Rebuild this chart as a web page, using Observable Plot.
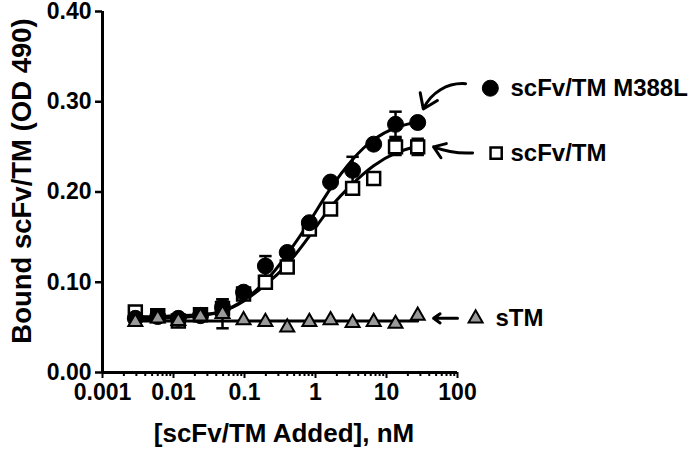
<!DOCTYPE html>
<html><head><meta charset="utf-8">
<script src="https://cdn.jsdelivr.net/npm/d3@7"></script>
<script src="https://cdn.jsdelivr.net/npm/@observablehq/plot@0.6"></script>
<style>body{margin:0;background:#fff}</style>
</head><body><div id="chart"></div>
<script>
// concentrations (nM)
const conc = [0.0029, 0.006, 0.0117, 0.024, 0.049, 0.097, 0.197, 0.40, 0.82, 1.63, 3.33, 6.6, 13.4, 27.5];
// measured OD 490
const m388l = [0.060, 0.062, 0.060, 0.063, 0.072, 0.089, 0.118, 0.133, 0.166, 0.211, 0.224, 0.253, 0.275, 0.277];
const scfv  = [0.067, 0.063, 0.057, 0.064, 0.071, 0.087, 0.100, 0.117, 0.159, 0.181, 0.204, 0.215, 0.250, 0.250];
const stm   = [0.056, 0.060, 0.057, 0.062, 0.065, 0.058, 0.056, 0.050, 0.056, 0.058, 0.055, 0.056, 0.054, 0.063];
// error bar half-lengths (0 = none visible)
const m388lErr = [0, 0, 0, 0, 0, 0, 0.011, 0, 0, 0, 0.015, 0, 0.014, 0];
const scfvErr  = [0, 0, 0, 0, 0.010, 0, 0, 0, 0, 0, 0, 0, 0.009, 0.009];
const stmErr   = [0, 0, 0, 0, 0.016, 0, 0, 0, 0, 0, 0, 0, 0, 0];
// fitted curves as drawn, read at the same concentrations
const m388lFit = [0.060, 0.060, 0.061, 0.063, 0.068, 0.080, 0.101, 0.131, 0.167, 0.204, 0.236, 0.258, 0.271, 0.278];
const scfvFit  = [0.062, 0.062, 0.063, 0.064, 0.068, 0.079, 0.097, 0.120, 0.151, 0.183, 0.209, 0.229, 0.243, 0.251];
const stmFit   = [0.057, 0.057, 0.057, 0.057, 0.057, 0.057, 0.057, 0.057, 0.057, 0.057, 0.057, 0.057, 0.057, 0.057];

const xTicks = [0.001, 0.01, 0.1, 1, 10, 100];
const xTickLabels = ["0.001", "0.01", "0.1", "1", "10", "100"];
const yTicks = [0, 0.1, 0.2, 0.3, 0.4];
const yTickLabels = ["0.00", "0.10", "0.20", "0.30", "0.40"];

const seriesNames = ["scFv/TM M388L", "scFv/TM", "sTM"];
// annotation anchor positions (data units)
const markerX = [290, 350, 180];
const textX = [557, 557, 343];
const labelY = [0.315, 0.243, 0.060];
const arrowX1 = [130, 163, 100];
const arrowY1 = [0.320, 0.2433, 0.060];
const arrowX2 = [33, 46, 46];
const arrowY2 = [0.292, 0.250, 0.060];
const arrowBend = [-35, 12, 0];

const xTitle = "[scFv/TM Added], nM";
const yTitle = "Bound scFv/TM (OD 490)";

const minorTicks = [];
for (let e = -3; e < 2; e++) for (let k = 2; k <= 9; k++) minorTicks.push(k * Math.pow(10, e));

const rows = (ys, fits, errs) => conc.map((c, i) => ({x: c, y: ys[i], fit: fits[i], err: errs[i]}));
const circ = rows(m388l, m388lFit, m388lErr);
const sq = rows(scfv, scfvFit, scfvErr);
const tri = rows(stm, stmFit, stmErr);

const capSymbol = {draw(ctx, size) { const w = Math.sqrt(size) / 2; ctx.moveTo(-w, 0); ctx.lineTo(w, 0); }};

function errMarks(data) {
  const d = data.filter(r => r.err > 0);
  return [
    Plot.ruleX(d, {x: "x", y1: r => r.y - r.err, y2: r => r.y + r.err, strokeWidth: 2.5}),
    Plot.dot(d, {x: "x", y: r => r.y + r.err, symbol: capSymbol, r: 7, stroke: "black", strokeWidth: 2.5}),
    Plot.dot(d, {x: "x", y: r => r.y - r.err, symbol: capSymbol, r: 7, stroke: "black", strokeWidth: 2.5})
  ];
}

const chart = Plot.plot({
  width: 692,
  height: 449,
  marginLeft: 102,
  marginRight: 235,
  marginTop: 11,
  marginBottom: 77,
  style: {fontFamily: "'Liberation Sans', Arial, sans-serif", fontWeight: "bold", color: "black", background: "white"},
  x: {type: "log", domain: [0.001, 100]},
  y: {domain: [0, 0.4]},
  marks: [
    Plot.axisX({ticks: minorTicks, tickFormat: () => "", tickSize: 4, strokeWidth: 2, label: null}),
    Plot.axisX({ticks: xTicks, tickFormat: d => xTickLabels[xTicks.indexOf(d)], tickSize: 6, strokeWidth: 2, tickPadding: 5, fontSize: 23, fontWeight: "bold", label: null}),
    Plot.axisY({ticks: yTicks, tickFormat: d => yTickLabels[yTicks.indexOf(d)], tickSize: 7, strokeWidth: 2.5, tickPadding: 4, fontSize: 23, fontWeight: "bold", label: null}),
    Plot.ruleX([0.001], {y1: 0, y2: 0.4, strokeWidth: 3}),
    Plot.ruleY([0], {x1: 0.001, x2: 100, strokeWidth: 3}),
    Plot.text([xTitle], {frameAnchor: "bottom", textAnchor: "middle", lineAnchor: "top", dy: 51, dx: 4, fontSize: 26, fontWeight: "bold"}),
    Plot.text([yTitle], {frameAnchor: "left", textAnchor: "middle", rotate: -90, dx: -80, dy: -11, fontSize: 27.5, fontWeight: "bold"}),
    // fitted curves
    Plot.line(sq, {x: "x", y: "fit", curve: "natural", strokeWidth: 3}),
    Plot.line(circ, {x: "x", y: "fit", curve: "natural", strokeWidth: 3}),
    Plot.line(tri, {x: "x", y: "fit", curve: "natural", strokeWidth: 3}),
    // error bars
    ...errMarks(sq), ...errMarks(circ), ...errMarks(tri),
    // points
    Plot.dot(sq, {x: "x", y: "y", symbol: "square", r: 7.3, fill: "white", stroke: "black", strokeWidth: 2.5}),
    Plot.dot(circ, {x: "x", y: "y", symbol: "circle", r: 8, fill: "black", stroke: "black", strokeWidth: 1}),
    Plot.dot(tri, {x: "x", y: "y", symbol: "triangle", r: 5.2, fill: "#999999", stroke: "black", strokeWidth: 2}),
    // annotation arrows
    ...[0, 1, 2].filter(i => arrowX1[i] !== arrowX2[i]).map(i =>
      Plot.arrow([i], {x1: () => arrowX1[i], y1: () => arrowY1[i], x2: () => arrowX2[i], y2: () => arrowY2[i], bend: arrowBend[i], strokeWidth: 3, headLength: 11, headAngle: 70})
    ),
    // annotation markers
    Plot.dot([0], {x: () => markerX[0], y: () => labelY[0], symbol: "circle", r: 8, fill: "black", stroke: "black", strokeWidth: 1}),
    Plot.dot([1], {x: () => markerX[1], y: () => labelY[1], symbol: "square", r: 6.3, fill: "white", stroke: "black", strokeWidth: 2.5}),
    Plot.dot([2], {x: () => markerX[2], y: () => labelY[2], symbol: "triangle", r: 5.2, fill: "#999999", stroke: "black", strokeWidth: 2}),
    Plot.text([0, 1, 2], {x: i => textX[i], y: i => labelY[i], text: i => seriesNames[i], textAnchor: "start", fontSize: 24, fontWeight: "bold"})
  ]
});
document.getElementById("chart").append(chart);
</script>
</body></html>
